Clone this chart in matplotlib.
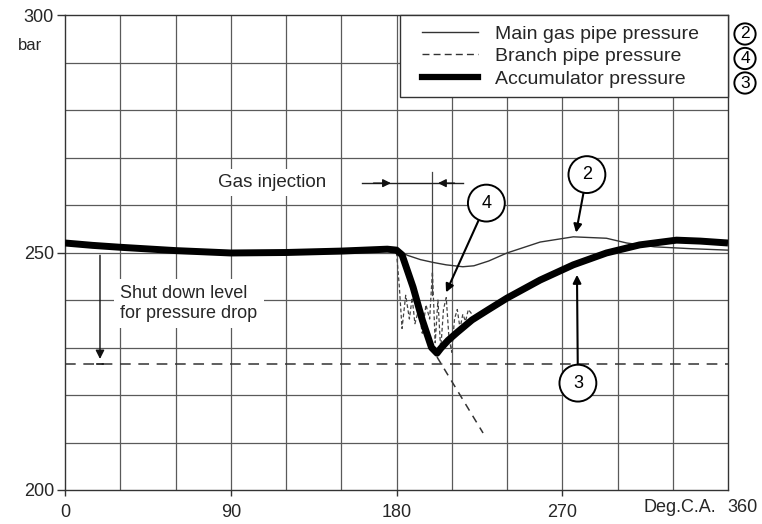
import matplotlib
matplotlib.use("Agg")
import matplotlib.pyplot as plt
from matplotlib.lines import Line2D
from matplotlib.patches import Rectangle

plt.rcParams['font.family'] = ['Liberation Sans', 'DejaVu Sans']

# ---- data ----
main_deg = [0, 30, 60, 90, 120, 150, 175, 180, 186, 193, 200, 207, 216, 222, 230,
            240, 258, 276, 294, 305, 320, 340, 360]
main_bar = [252.0, 251.1, 250.4, 249.9, 250.0, 250.3, 250.6, 250.5, 249.4, 248.5,
            247.9, 247.4, 247.0, 247.2, 248.2, 249.9, 252.2, 253.3, 253.0, 252.0,
            251.2, 250.8, 250.5]

acc_deg = [0, 15, 30, 60, 90, 120, 150, 175, 180, 183, 189, 194, 199, 202, 204,
           208, 213, 221, 230, 240, 258, 276, 294, 312, 332, 345, 360]
acc_bar = [252.0, 251.5, 251.1, 250.4, 249.9, 250.0, 250.3, 250.7, 250.5, 249.5,
           242.7, 235.8, 230.0, 228.8, 229.8, 231.5, 233.2, 235.8, 238.0, 240.4,
           244.2, 247.4, 249.9, 251.6, 252.6, 252.4, 252.0]

branch_deg = [180, 181.5, 183, 185, 187, 188.5, 190, 192, 194, 196, 198, 199.5,
              201, 202.5, 204, 205.5, 207, 208.5, 210, 211.5, 213, 214.5, 216,
              217.5, 219, 221]
branch_bar = [250, 243, 234, 241, 236, 240.5, 235, 238, 233, 239, 236, 246,
              231, 240, 229.5, 238, 240.5, 232, 229, 236, 238, 234, 237,
              235.5, 238, 237]

branch_tail_deg = [202, 227]
branch_tail_bar = [228.0, 212.0]

shutdown_level = 226.5

x_ticks = [0, 90, 180, 270]
x_tick_labels = ['0', '90', '180', '270']
y_ticks = [200, 250, 300]
y_tick_labels = ['200', '250', '300']

legend_labels = ['Main gas pipe pressure', 'Branch pipe pressure', 'Accumulator pressure']
legend_refs = ['2', '4', '3']

# ---- figure ----
W, H = 762, 524
fig = plt.figure(figsize=(W / 100, H / 100), dpi=100)
ax = fig.add_axes([65 / W, 1 - 490 / H, (728 - 65) / W, (490 - 15) / H])
ax.set_xlim(0, 360)
ax.set_ylim(200, 300)

txt = '#262626'
grid_c = '#5a5a5a'

# grid
for gx in range(30, 360, 30):
    ax.axvline(gx, color=grid_c, lw=0.9, zorder=1)
for gy in range(210, 300, 10):
    ax.axhline(gy, color=grid_c, lw=0.9, zorder=1)

for s in ax.spines.values():
    s.set_color('#333333')
    s.set_linewidth(1.0)

ax.set_xticks(x_ticks)
ax.set_xticklabels(x_tick_labels, fontsize=13, color=txt)
ax.set_yticks(y_ticks)
ax.set_yticklabels(y_tick_labels, fontsize=13, color=txt)
ax.tick_params(axis='y', length=6, width=1, pad=2, color='#333333')
ax.tick_params(axis='x', length=4, width=1, pad=6, color='#333333')

# series
ax.plot([0, 360], [shutdown_level, shutdown_level], color='#333333', lw=1.1,
        dashes=(7, 5), zorder=3)
ax.plot(branch_deg, branch_bar, color='#444444', lw=0.9, dashes=(3, 2), zorder=3)
ax.plot(branch_tail_deg, branch_tail_bar, color='#333333', lw=1.1, dashes=(5, 4), zorder=3)
ax.plot(main_deg, main_bar, color='#333333', lw=1.0, zorder=4)
ax.plot(acc_deg, acc_bar, color='black', lw=5.0, solid_capstyle='butt',
        solid_joinstyle='round', zorder=5)

# legend (manual frame)
frame = Rectangle((400 / W, 1 - 97 / H), (728 - 400) / W, (97 - 15) / H,
                  transform=fig.transFigure, fc='white', ec='#333333', lw=1.0, zorder=9)
ax.add_patch(frame)
frame.set_clip_on(False)
handles = [Line2D([], [], color='#333333', lw=1.0),
           Line2D([], [], color='#333333', lw=1.0, dashes=(5, 3)),
           Line2D([], [], color='black', lw=4.5)]
leg = fig.legend(handles, legend_labels, loc='upper left',
                 bbox_to_anchor=(422 / W, 1 - 25 / H), bbox_transform=fig.transFigure,
                 frameon=False, fontsize=14, handlelength=2.9, handletextpad=0.85,
                 labelspacing=0.25, borderpad=0, borderaxespad=0)
for t in leg.get_texts():
    t.set_color(txt)
leg.set_zorder(10)

for i, r in enumerate(legend_refs):
    fig.text(745 / W, 1 - (34 + 24.5 * i) / H, r, ha='center', va='center', fontsize=12.5,
             color='black',
             bbox=dict(boxstyle='circle,pad=0.18', fc='white', ec='black', lw=1.4))

# text labels
fig.text(30 / W, 1 - 45 / H, 'bar', ha='center', va='center', fontsize=12, color=txt)
fig.text(680 / W, 1 - 507 / H, 'Deg.C.A.', ha='center', va='center', fontsize=13, color=txt)
fig.text(742 / W, 1 - 507 / H, '360', ha='center', va='center', fontsize=13, color=txt)

ax.text(30, 239.3, 'Shut down level\nfor pressure drop', ha='left', va='center',
        fontsize=13, color=txt, linespacing=1.2, zorder=6,
        bbox=dict(boxstyle='square,pad=0.35', fc='white', ec='none'))

ax.text(83, 264.7, 'Gas injection', ha='left', va='center', fontsize=13.5, color=txt,
        zorder=6, bbox=dict(boxstyle='square,pad=0.25', fc='white', ec='none'))

# gas injection interval arrows
ax.plot([161.5, 216], [264.6, 264.6], color='#222222', lw=1.0, zorder=6)
ax.annotate('', xy=(178.5, 264.6), xytext=(166, 264.6),
            arrowprops=dict(arrowstyle='-|>', color='#111111', lw=1.0, mutation_scale=12),
            zorder=7)
ax.annotate('', xy=(201, 264.6), xytext=(213, 264.6),
            arrowprops=dict(arrowstyle='-|>', color='#111111', lw=1.0, mutation_scale=12),
            zorder=7)
ax.plot([199.5, 199.5], [241, 267], color='#444444', lw=0.9, zorder=2)

# shut down arrow
ax.annotate('', xy=(19, 227.0), xytext=(19, 250),
            arrowprops=dict(arrowstyle='-|>', color='#111111', lw=1.0, mutation_scale=13),
            zorder=7)
ax.plot([17.5, 20.5], [226.6, 226.6], color='#111111', lw=1.2, zorder=7)

# circled callouts
circ = dict(boxstyle='circle,pad=0.55', fc='white', ec='black', lw=1.4)
arr = dict(arrowstyle='-|>', color='black', lw=1.5, mutation_scale=12, shrinkA=0, shrinkB=0)
ax.annotate('2', xy=(277.5, 254.2), xytext=(283.4, 266.4), ha='center', va='center',
            fontsize=13, bbox=circ, arrowprops=arr, zorder=8)
ax.annotate('4', xy=(206.9, 241.6), xytext=(228.8, 260.4), ha='center', va='center',
            fontsize=13, bbox=circ, arrowprops=arr, zorder=8)
ax.annotate('3', xy=(278.0, 245.3), xytext=(278.5, 222.5), ha='center', va='center',
            fontsize=13, bbox=circ, arrowprops=arr, zorder=8)

fig.savefig('out.png', dpi=100, facecolor='white')
